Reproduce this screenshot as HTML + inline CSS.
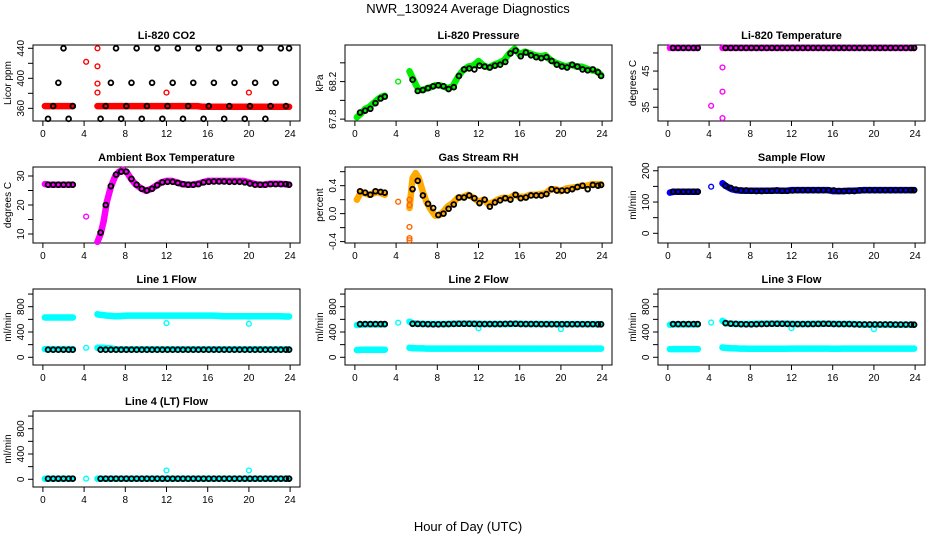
<!DOCTYPE html>
<html><head><meta charset="utf-8"><style>
html,body{margin:0;padding:0;background:#fff;}
svg{display:block;font-family:"Liberation Sans",Arial,sans-serif;}
</style></head><body>
<svg id="chart" width="936" height="540" viewBox="0 0 936 540" xmlns="http://www.w3.org/2000/svg">
<rect x="0" y="0" width="936" height="540" fill="#fff"/>
<text x="468" y="13" text-anchor="middle" font-size="13">NWR_130924  Average Diagnostics</text>
<text x="468" y="531" text-anchor="middle" font-size="13">Hour of Day (UTC)</text>
</svg>
<script>
// shared hours
const denseHours=[0.2,0.6,1.0,1.4,1.8,2.2,2.6,2.9,5.3,5.6,5.9,6.2,6.6,7.0,7.4,7.8,8.2,8.6,9.0,9.5,10.0,10.5,11.0,11.5,12.0,12.5,13.0,13.5,14.0,14.5,15.0,15.5,16.0,16.5,17.0,17.5,18.0,18.5,19.0,19.5,20.0,20.5,21.0,21.5,22.0,22.5,23.0,23.5,23.9];
const sparseHours=[0.5,1.0,1.5,2.0,2.5,2.9,5.6,6.1,6.6,7.1,7.6,8.1,8.6,9.1,9.6,10.1,10.6,11.1,11.6,12.1,12.6,13.1,13.6,14.1,14.6,15.1,15.6,16.1,16.6,17.1,17.6,18.1,18.6,19.1,19.6,20.1,20.6,21.1,21.6,22.1,22.6,23.1,23.6,23.9];
const xTicks=[0,4,8,12,16,20,24];

// CO2
const co2Dense=[363,363,363,363,363,363,363,363,363,363,363,363,363,363,363,363,363,363,363,363,363,363,363,363,363,363,363,363,363,363,363,362,362,362,362,362,362,362,362,362,362,362,362,362,362,362,362,362,362];
const co2Sparse=[346,363,394,440,346,363,346,363,394,440,346,363,394,440,346,363,394,440,346,363,394,440,346,363,394,440,346,363,394,440,346,363,394,440,346,363,394,440,346,363,394,440,363,440];
const co2ExtraH=[4.2,5.3,5.3,5.3,5.3,12,20];
const co2ExtraV=[422,440,416,393,381,381,381];
// Pressure
const presDense=[67.82,67.86,67.91,67.93,67.97,68.01,68.04,68.05,68.31,68.24,68.17,68.11,68.11,68.13,68.14,68.16,68.16,68.15,68.13,68.15,68.25,68.32,68.36,68.37,68.42,68.37,68.35,68.38,68.40,68.43,68.50,68.55,68.49,68.52,68.50,68.48,68.47,68.48,68.43,68.40,68.38,68.36,68.38,68.36,68.36,68.34,68.32,68.31,68.27];
const presSparse=[67.87,67.89,67.91,67.97,68.02,68.04,68.22,68.10,68.11,68.13,68.15,68.16,68.15,68.12,68.14,68.26,68.33,68.34,68.33,68.37,68.36,68.35,68.37,68.38,68.41,68.50,68.53,68.47,68.51,68.48,68.46,68.45,68.46,68.42,68.38,68.36,68.35,68.38,68.36,68.33,68.32,68.33,68.30,68.26];
const presExtraH=[4.2];
const presExtraV=[68.2];
// Li-820 temperature
const tempDense=[51.4,51.4,51.4,51.4,51.4,51.4,51.4,51.4,51.4,51.4,51.4,51.4,51.4,51.4,51.4,51.4,51.4,51.4,51.4,51.4,51.4,51.4,51.4,51.4,51.4,51.4,51.4,51.4,51.4,51.4,51.4,51.4,51.4,51.4,51.4,51.4,51.4,51.4,51.4,51.4,51.4,51.4,51.4,51.4,51.4,51.4,51.4,51.4,51.4];
const tempSparse=[51.4,51.4,51.4,51.4,51.4,51.4,51.4,51.4,51.4,51.4,51.4,51.4,51.4,51.4,51.4,51.4,51.4,51.4,51.4,51.4,51.4,51.4,51.4,51.4,51.4,51.4,51.4,51.4,51.4,51.4,51.4,51.4,51.4,51.4,51.4,51.4,51.4,51.4,51.4,51.4,51.4,51.4,51.4,51.4];
const tempExtraH=[4.2,5.3,5.3,5.3];
const tempExtraV=[35.4,46.0,39.3,32.0];
// Ambient box temperature
const ambDense=[27.2,27,27,27,27,27,27,27,7.3,10.0,14.5,21,26.3,29.8,31.5,32.1,31.0,28.8,27.1,25.8,24.9,25.5,26.7,27.8,28.3,28.3,27.8,27.2,27,27,27.3,27.8,28.3,28.3,28.3,28.3,28.3,28.3,28.3,28.3,27.8,27.3,27,27,27.3,27.3,27.3,27.2,27];
const ambSparse=[27,27,27,27,27,27,10.5,20,26.5,30.5,31.5,31.5,29,27,25.6,25,25.6,26.8,27.8,28,28,27.6,27.2,27,27,27.2,27.8,28,28.1,28.1,28.1,28,28,28,27.8,27.4,27,27,27,27.2,27.2,27.2,27.2,27];
const ambExtraH=[4.2];
const ambExtraV=[16];
// Gas stream RH
const rhDense=[0.2,0.31,0.29,0.27,0.29,0.31,0.29,0.27,0.08,0.51,0.58,0.51,0.31,0.15,0.05,-0.03,-0.02,0.03,0.1,0.15,0.23,0.24,0.27,0.23,0.17,0.2,0.13,0.17,0.21,0.23,0.22,0.27,0.24,0.24,0.27,0.27,0.28,0.29,0.35,0.35,0.32,0.36,0.37,0.38,0.4,0.4,0.42,0.42,0.42];
const rhSparse=[0.32,0.30,0.27,0.32,0.31,0.30,0.35,0.47,0.26,0.14,0.08,-0.02,0.0,0.07,0.13,0.23,0.23,0.26,0.22,0.15,0.2,0.1,0.16,0.19,0.22,0.2,0.27,0.22,0.23,0.26,0.26,0.26,0.28,0.35,0.33,0.33,0.33,0.35,0.38,0.40,0.35,0.41,0.40,0.41];
const rhExtraH=[4.2,5.3,5.3,5.3,5.3,5.3];
const rhExtraV=[0.17,-0.35,-0.38,-0.19,0.12,0.2];
// Sample flow
const sfDense=[130,133,133,133,133,133,133,133,160,152,146,141,138,137,136,136,136,136,136,136,136,137,136,136,138,138,138,138,138,138,138,138,135,135,135,136,136,137,138,138,138,138,138,138,138,138,138,138,138];
const sfSparse=[133,133,133,133,133,133,152,145,140,137,137,136,135,135,136,136,137,136,136,137,138,138,138,138,138,138,138,137,135,135,135,135,137,138,138,138,138,138,138,138,138,138,138,138];
const sfExtraH=[4.2];
const sfExtraV=[149];
// Line 1
const l1High=[630,630,630,630,630,630,630,630,680,670,665,660,655,650,650,655,660,660,660,660,660,660,660,660,660,660,660,660,660,660,660,660,660,660,655,650,650,650,650,650,650,650,650,650,650,650,650,645,645];
const l1Low=[130,130,130,130,130,130,130,130,150,150,148,145,140,130,128,126,126,126,126,126,126,126,126,126,126,126,126,126,126,126,126,126,126,126,126,126,126,126,126,126,126,126,126,126,126,126,126,126,126];
const l1Sparse=[120,120,120,120,120,120,120,120,120,120,120,120,120,120,120,120,120,120,120,120,120,120,120,120,120,120,120,120,120,120,120,120,120,120,120,120,120,120,120,120,120,120,120,120];
const l1ExtraH=[4.2,12,20];
const l1ExtraV=[150,540,530];
// Line 2
const l2High=[510,515,520,520,520,520,520,520,563,540,535,530,528,527,527,527,527,527,527,530,532,532,532,532,530,527,527,527,527,527,527,530,530,527,527,527,527,527,527,525,525,525,525,525,525,525,525,525,525];
const l2Low=[115,118,120,120,120,120,120,120,150,145,142,140,140,138,138,138,138,138,138,138,138,138,138,138,138,138,138,138,138,138,138,138,138,138,138,138,138,138,138,138,138,138,138,138,138,138,138,138,138];
const l2Sparse=[525,525,525,525,525,525,530,528,526,524,522,522,524,526,528,530,530,530,528,526,526,526,526,526,528,530,530,526,526,526,526,524,524,524,524,524,524,524,524,524,524,524,522,522];
const l2ExtraH=[4.2,12,20];
const l2ExtraV=[547,459,445];
// Line 3
const l3High=[515,520,520,520,520,520,520,520,575,545,535,530,528,527,527,527,527,530,532,532,532,532,532,532,530,527,527,527,530,530,530,530,530,527,527,527,527,520,515,515,515,515,515,515,515,515,515,515,515];
const l3Low=[130,130,130,130,130,130,130,130,155,148,145,142,140,138,138,135,135,135,135,135,135,135,135,135,138,138,138,138,138,138,138,138,135,135,138,138,138,138,138,138,138,138,138,138,138,138,138,138,138];
const l3Sparse=[525,525,525,525,525,525,540,532,528,524,522,522,524,526,528,530,530,530,528,526,526,526,526,526,528,530,530,526,526,526,526,522,520,520,520,520,520,520,520,518,518,518,518,516];
const l3ExtraH=[4.2,12,20];
const l3ExtraV=[550,460,445];
// Line 4
const l4Dense=[10,10,10,10,10,10,10,10,10,10,10,10,10,10,10,10,10,10,10,10,10,10,10,10,10,10,10,10,10,10,10,10,10,10,10,10,10,10,10,10,10,10,10,10,10,10,10,10,10];
const l4Sparse=[10,10,10,10,10,10,10,10,10,10,10,10,10,10,10,10,10,10,10,10,10,10,10,10,10,10,10,10,10,10,10,10,10,10,10,10,10,10,10,10,10,10,10,10];
const l4ExtraH=[4.2,12,20];
const l4ExtraV=[10,140,140];

const NS="http://www.w3.org/2000/svg";
const svg=document.getElementById('chart');
const colL=[33,345,658], colW=267;
const rowT=[45,167,289,411], rowH=76;
const XMIN=-0.96, XMAX=24.96;

function mk(tag,attrs,parent){const e=document.createElementNS(NS,tag);for(const k in attrs)e.setAttribute(k,attrs[k]);(parent||svg).appendChild(e);return e;}

function panel(p){
  const L=colL[p.col], T=rowT[p.row], B=T+rowH, R=L+colW;
  const g=mk('g',{});
  
  
  const xs=v=>L+(v-XMIN)/(XMAX-XMIN)*colW;
  const ys=v=>B-(v-p.ylim[0])/(p.ylim[1]-p.ylim[0])*rowH;
  const t=mk('text',{x:(L+R)/2,y:T-6,'text-anchor':'middle','font-size':11,'font-weight':'bold'},g);
  t.textContent=p.title;
  
  
  const box=mk('rect',{x:L,y:T,width:colW,height:rowH,fill:'none',stroke:'#000','stroke-width':1},g);
  
  
  const xa=mk('g',{},g);
  
  
  xTicks.forEach(v=>{
    mk('line',{x1:xs(v),x2:xs(v),y1:B,y2:B+5,stroke:'#000'},xa);
    const tl=mk('text',{x:xs(v),y:B+16,'text-anchor':'middle','font-size':10},xa);
    tl.textContent=v;
  });
  const ya=mk('g',{},g);
  
  
  mk('line',{x1:L,x2:L,y1:ys(p.yticks[0]),y2:ys(p.yticks[p.yticks.length-1]),stroke:'#000'},ya);
  p.yticks.forEach(v=>{
    mk('line',{x1:L-5,x2:L,y1:ys(v),y2:ys(v),stroke:'#000'},ya);
  });
  p.ylabels.forEach(v=>{
    const tx=L-9, ty=ys(v);
    const tl=mk('text',{x:tx,y:ty,'text-anchor':'middle','font-size':10,transform:`rotate(-90 ${tx} ${ty})`},ya);
    tl.textContent=v;
  });
  const yl=mk('text',{x:L-22,y:(T+B)/2,'text-anchor':'middle','font-size':10,transform:`rotate(-90 ${L-22} ${(T+B)/2})`},g);
  yl.textContent=p.ylab;
  
  
  p.series.forEach(s=>{
    const sg=mk('g',{},g);
    
    
    const n=Math.min(s.h.length,s.v.length);
    if(s.band){
      let seg=[];
      const flush=()=>{ if(seg.length>1) mk('polyline',{points:seg.join(' '),fill:'none',stroke:s.color,'stroke-width':6.5,'stroke-linejoin':'round','stroke-linecap':'round'},sg); seg=[]; };
      for(let i=0;i<n;i++){
        if(i>0 && s.h[i]-s.h[i-1]>1) flush();
        seg.push(xs(s.h[i]).toFixed(1)+','+ys(s.v[i]).toFixed(1));
      }
      flush();
    }
    const sw = s.color==='#000' ? 1.8 : 1.4;
    for(let i=0;i<n;i++){
      const c=mk('circle',{cx:xs(s.h[i]),cy:ys(s.v[i]),r:2.4,fill:'none',stroke:s.color,'stroke-width':sw},sg);
      
      
    }
  });
}

panel({name:'co2',col:0,row:0,title:'Li-820 CO2',ylab:'Licor ppm',ylim:[343.1,444.4],yticks:[360,380,400,420,440],ylabels:[360,400,440],
  series:[{name:'dense',h:denseHours,v:co2Dense,color:'#ff0000',band:true},{name:'extra',h:co2ExtraH,v:co2ExtraV,color:'#ff0000'},{name:'sparse',h:sparseHours,v:co2Sparse,color:'#000'}]});
panel({name:'pressure',col:1,row:0,title:'Li-820 Pressure',ylab:'kPa',ylim:[67.78,68.59],yticks:[67.8,68.0,68.2,68.4],ylabels:['67.8','68.2'],
  series:[{name:'dense',h:denseHours,v:presDense,color:'#00ee00',band:true},{name:'extra',h:presExtraH,v:presExtraV,color:'#00ee00'},{name:'sparse',h:sparseHours,v:presSparse,color:'#000'}]});
panel({name:'li820-temp',col:2,row:0,title:'Li-820 Temperature',ylab:'degrees C',ylim:[31.2,52.2],yticks:[35,40,45,50],ylabels:[35,45],
  series:[{name:'dense',h:denseHours,v:tempDense,color:'#ff00ff',band:true},{name:'extra',h:tempExtraH,v:tempExtraV,color:'#ff00ff'},{name:'sparse',h:sparseHours,v:tempSparse,color:'#000'}]});
panel({name:'ambient-temp',col:0,row:1,title:'Ambient Box Temperature',ylab:'degrees C',ylim:[6.9,33.1],yticks:[10,15,20,25,30],ylabels:[10,20,30],
  series:[{name:'dense',h:denseHours,v:ambDense,color:'#ff00ff',band:true},{name:'extra',h:ambExtraH,v:ambExtraV,color:'#ff00ff'},{name:'sparse',h:sparseHours,v:ambSparse,color:'#000'}]});
panel({name:'gas-rh',col:1,row:1,title:'Gas Stream RH',ylab:'percent',ylim:[-0.42,0.667],yticks:[-0.4,-0.2,0,0.2,0.4,0.6],ylabels:['-0.4','0.0','0.4'],
  series:[{name:'dense',h:denseHours,v:rhDense,color:'#ffaa00',band:true},{name:'extra',h:rhExtraH,v:rhExtraV,color:'#ff6600'},{name:'sparse',h:sparseHours,v:rhSparse,color:'#000'}]});
panel({name:'sample-flow',col:2,row:1,title:'Sample Flow',ylab:'ml/min',ylim:[-31,212],yticks:[0,50,100,150,200],ylabels:[0,100,200],
  series:[{name:'dense',h:denseHours,v:sfDense,color:'#0000ff',band:true},{name:'extra',h:sfExtraH,v:sfExtraV,color:'#0000ff'},{name:'sparse',h:sparseHours,v:sfSparse,color:'#000'}]});
const flowY={ylim:[-122,1080],yticks:[0,200,400,600,800,1000],ylabels:[0,400,800]};
panel(Object.assign({name:'line1-flow',col:0,row:2,title:'Line 1 Flow',ylab:'ml/min',
  series:[{name:'high',h:denseHours,v:l1High,color:'#00ffff',band:true},{name:'low',h:denseHours,v:l1Low,color:'#00ffff',band:true},{name:'extra',h:l1ExtraH,v:l1ExtraV,color:'#00ffff'},{name:'sparse',h:sparseHours,v:l1Sparse,color:'#000'}]},flowY));
panel(Object.assign({name:'line2-flow',col:1,row:2,title:'Line 2 Flow',ylab:'ml/min',
  series:[{name:'high',h:denseHours,v:l2High,color:'#00ffff',band:true},{name:'low',h:denseHours,v:l2Low,color:'#00ffff',band:true},{name:'extra',h:l2ExtraH,v:l2ExtraV,color:'#00ffff'},{name:'sparse',h:sparseHours,v:l2Sparse,color:'#000'}]},flowY));
panel(Object.assign({name:'line3-flow',col:2,row:2,title:'Line 3 Flow',ylab:'ml/min',
  series:[{name:'high',h:denseHours,v:l3High,color:'#00ffff',band:true},{name:'low',h:denseHours,v:l3Low,color:'#00ffff',band:true},{name:'extra',h:l3ExtraH,v:l3ExtraV,color:'#00ffff'},{name:'sparse',h:sparseHours,v:l3Sparse,color:'#000'}]},flowY));
panel(Object.assign({name:'line4-flow',col:0,row:3,title:'Line 4 (LT) Flow',ylab:'ml/min',
  series:[{name:'dense',h:denseHours,v:l4Dense,color:'#00ffff',band:true},{name:'extra',h:l4ExtraH,v:l4ExtraV,color:'#00ffff'},{name:'sparse',h:sparseHours,v:l4Sparse,color:'#000'}]},flowY));
</script>
</body></html>
